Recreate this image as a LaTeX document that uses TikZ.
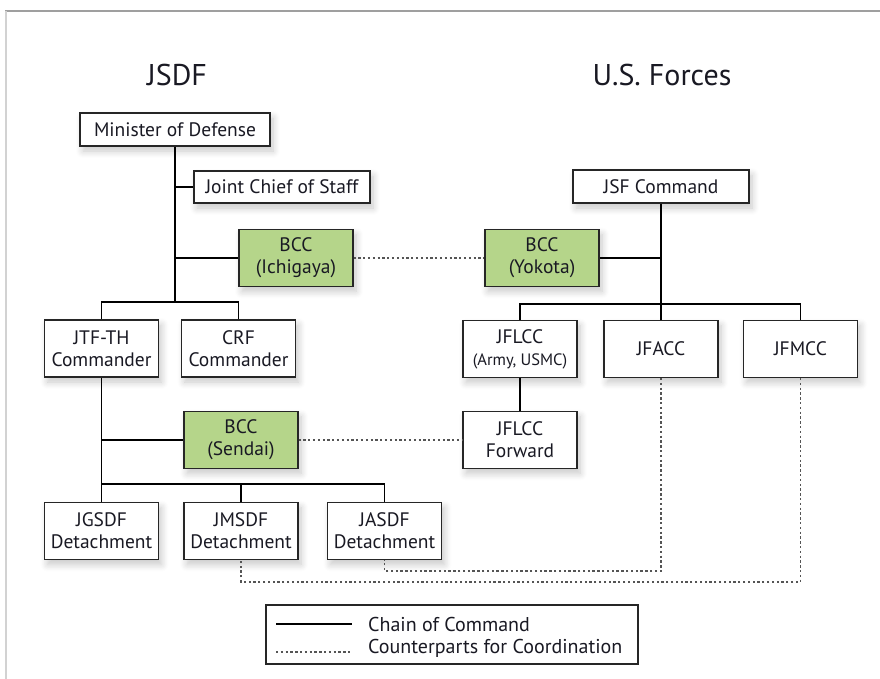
\documentclass[tikz,border=0pt]{standalone}
\usepackage{fontspec}
\setmainfont{PT Sans}
\usetikzlibrary{shadows.blur}
\definecolor{bccgreen}{RGB}{181,213,138}
\definecolor{txt}{RGB}{25,25,35}
\definecolor{dotc}{RGB}{85,85,85}
\begin{document}
\begin{tikzpicture}[x=1pt,y=-1pt,
  box/.style={draw=black!85,line width=1.1pt,fill=white,align=center,inner sep=0pt,
    text=txt,font=\fontsize{19.5}{22}\selectfont,
    blur shadow={shadow xshift=3pt,shadow yshift=-5pt,shadow blur radius=7pt,shadow opacity=22,shadow blur steps=8}},
  wide/.style={box,minimum width=190pt,minimum height=33pt},
  tall/.style={box,minimum width=114pt,minimum height=57pt},
  green/.style={tall,fill=bccgreen},
  cmd/.style={line width=1.2pt,draw=black},
  coord/.style={line width=1.6pt,draw=dotc,dash pattern=on 2.3pt off 2.5pt},
  title/.style={text=txt,font=\fontsize{30}{32}\selectfont}]
\useasboundingbox (0,0) rectangle (880,679);
% frame
\draw[gray!75,line width=1.4pt] (5,11) -- (880,11);
\draw[gray!35,line width=1.2pt] (6,11) -- (6,679);
% titles
\node[title] (tj) at (177,75) {JSDF};
\node[title] (tu) at (662,75) {U.S. Forces};
% JSDF side
\node[wide] (min) at (175,129.5) {Minister of Defense};
\node[box,minimum width=176pt,minimum height=32pt] (jcs) at (282,187) {Joint Chief of Staff};
\node[green] (ich) at (296,258) {BCC\\(Ichigaya)};
\node[tall] (jtf) at (101.5,348.5) {JTF-TH\\Commander};
\node[tall] (crf) at (238.5,348.5) {CRF\\Commander};
\node[green] (sen) at (241,440) {BCC\\(Sendai)};
\node[tall] (jgs) at (101.5,531) {JGSDF\\Detachment};
\node[tall] (jms) at (241,531) {JMSDF\\Detachment};
\node[tall] (jas) at (384.5,531) {JASDF\\Detachment};
% US side
\node[box,minimum width=176pt,minimum height=33pt] (jsf) at (661,186.5) {JSF Command};
\node[green] (yok) at (542,258) {BCC\\(Yokota)};
\node[tall] (jfl) at (520,349) {JFLCC\\{\fontsize{16.5}{18}\selectfont (Army, USMC)}};
\node[tall] (jfa) at (661,349) {JFACC};
\node[tall] (jfm) at (800.5,349) {JFMCC};
\node[tall] (fwd) at (520,440) {JFLCC\\Forward};
% junction coordinates
\coordinate (t1) at (175,302);
\coordinate (t2) at (101.5,484);
\coordinate (t3) at (661,304);
\coordinate (c1) at (500,571);
\coordinate (c2) at (500,582);
% chain of command
\draw[cmd] (min.south) -- (t1);
\draw[cmd] (min.south |- jcs.west) -- (jcs.west);
\draw[cmd] (min.south |- ich.west) -- (ich.west);
\draw[cmd] (jtf.north) |- (t1) -| (crf.north);
\draw[cmd] (jtf.south) -- (jgs.north);
\draw[cmd] (jtf.south |- sen.west) -- (sen.west);
\draw[cmd] (jgs.north |- t2) -| (jas.north);
\draw[cmd] (jms.north) -- (jms.north |- t2);
\draw[cmd] (jsf.south) -- (t3);
\draw[cmd] (jsf.south |- yok.east) -- (yok.east);
\draw[cmd] (jfl.north) |- (t3) -| (jfm.north);
\draw[cmd] (jfa.north) -- (t3);
\draw[cmd] (jfl.south) -- (fwd.north);
% coordination
\draw[coord] (ich.east) -- (yok.west);
\draw[coord] (sen.east) -- (fwd.west);
\draw[coord] (jfa.south) |- (c1) -| (jas.south);
\draw[coord] (jfm.south) |- (c2) -| (jms.south);
% legend
\node[draw=black!85,line width=1.1pt,minimum width=372pt,minimum height=59pt,inner sep=0pt] (leg) at (452,634.5) {};
\coordinate (l1a) at (276,624);
\coordinate (l1b) at (352,624);
\coordinate (l2a) at (276,652);
\coordinate (l2b) at (352,652);
\draw[cmd] (l1a) -- (l1b);
\draw[coord] (l2a) -- (l2b);
\node[anchor=west,inner sep=0pt,text=txt,font=\fontsize{20}{22}\selectfont] (lt1) at (368,624) {Chain of Command};
\node[anchor=west,inner sep=0pt,text=txt,font=\fontsize{20}{22}\selectfont] (lt2) at (368,648) {Counterparts for Coordination};
\end{tikzpicture}
\end{document}
